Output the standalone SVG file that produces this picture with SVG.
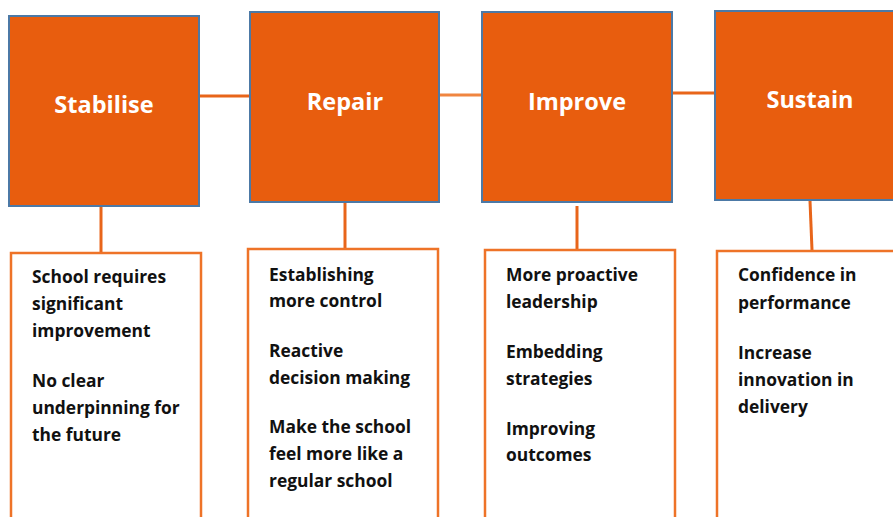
<svg xmlns="http://www.w3.org/2000/svg" width="893" height="517" viewBox="0 0 893 517">
  <style>
    .stage { fill: #E85D0E; stroke: #4C79A6; stroke-width: 2; }
    .title { fill: #FFFFFF; font-family: "Open Sans", Lato, sans-serif; font-weight: bold; font-size: 23.5px; text-anchor: middle; }
    .card { fill: #FFFFFF; stroke: #EE7328; stroke-width: 2.5; }
    .item { fill: #111111; font-family: "Open Sans", Lato, sans-serif; font-weight: bold; font-size: 17.4px; }
    .link { stroke: #E8651A; stroke-width: 3; fill: none; }
    .link-soft { stroke: #F08540; stroke-width: 3; fill: none; }
  </style>
  <rect width="893" height="517" fill="#FFFFFF"/>

  <g id="connectors">
    <line class="link" x1="200" y1="96" x2="250" y2="96"/>
    <line class="link-soft" x1="440" y1="95" x2="488" y2="95"/>
    <line class="link" x1="673" y1="93" x2="715" y2="93"/>
    <line class="link" x1="101" y1="207" x2="101" y2="253"/>
    <line class="link" x1="345" y1="203" x2="345" y2="249"/>
    <line class="link" x1="577" y1="206" x2="577" y2="251"/>
    <line class="link" x1="810" y1="201" x2="812" y2="250"/>
  </g>

  <g id="stabilise">
    <rect class="stage" x="9" y="16" width="190" height="190"/>
    <text class="title" x="104" y="113">Stabilise</text>
  </g>
  <g id="repair">
    <rect class="stage" x="250" y="12" width="189" height="190"/>
    <text class="title" x="345" y="110">Repair</text>
  </g>
  <g id="improve">
    <rect class="stage" x="482" y="12" width="190" height="190"/>
    <text class="title" x="577" y="110">Improve</text>
  </g>
  <g id="sustain">
    <rect class="stage" x="715" y="11" width="190" height="189"/>
    <text class="title" x="810" y="108">Sustain</text>
  </g>

  <g id="stabilise-notes">
    <rect class="card" x="11" y="253" width="190" height="280"/>
    <text class="item" x="32" y="283">School requires</text>
    <text class="item" x="32" y="310">significant</text>
    <text class="item" x="32" y="337">improvement</text>
    <text class="item" x="32" y="387">No clear</text>
    <text class="item" x="32" y="414">underpinning for</text>
    <text class="item" x="32" y="441">the future</text>
  </g>
  <g id="repair-notes">
    <rect class="card" x="248" y="249" width="190" height="280"/>
    <text class="item" x="269" y="281">Establishing</text>
    <text class="item" x="269" y="307">more control</text>
    <text class="item" x="269" y="357">Reactive</text>
    <text class="item" x="269" y="384">decision making</text>
    <text class="item" x="269" y="433">Make the school</text>
    <text class="item" x="269" y="460">feel more like a</text>
    <text class="item" x="269" y="487">regular school</text>
  </g>
  <g id="improve-notes">
    <rect class="card" x="485" y="250" width="190" height="280"/>
    <text class="item" x="506" y="281">More proactive</text>
    <text class="item" x="506" y="308">leadership</text>
    <text class="item" x="506" y="358">Embedding</text>
    <text class="item" x="506" y="385">strategies</text>
    <text class="item" x="506" y="435">Improving</text>
    <text class="item" x="506" y="461">outcomes</text>
  </g>
  <g id="sustain-notes">
    <rect class="card" x="717" y="251" width="190" height="280"/>
    <text class="item" x="738" y="281">Confidence in</text>
    <text class="item" x="738" y="309">performance</text>
    <text class="item" x="738" y="359">Increase</text>
    <text class="item" x="738" y="386">innovation in</text>
    <text class="item" x="738" y="413">delivery</text>
  </g>
</svg>
